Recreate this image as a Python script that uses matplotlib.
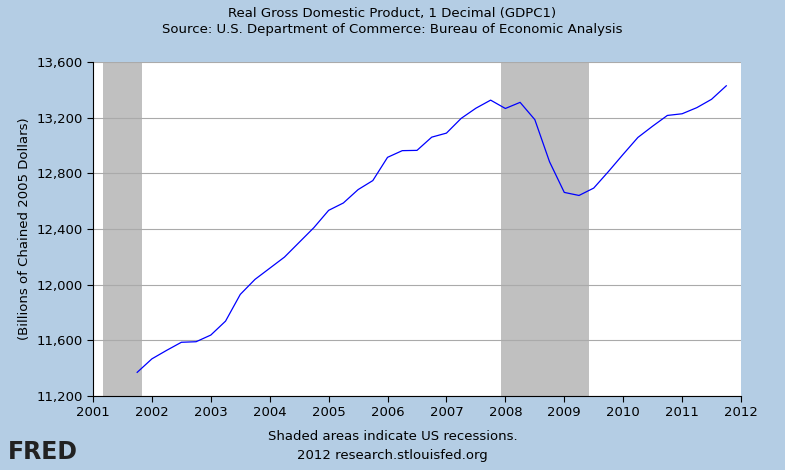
import numpy as np
import matplotlib.pyplot as plt

# quarterly GDPC1, first obs 2001Q4
start = 2001.75
gdp = [11370,
       11467, 11528, 11586, 11590,
       11638, 11738, 11930, 12038,
       12118, 12198, 12304, 12410,
       12534, 12587, 12683, 12748,
       12915, 12963, 12965, 13060,
       13089, 13195, 13268, 13326,
       13266, 13310, 13186, 12883,
       12663, 12641, 12694, 12813,
       12937, 13058, 13139, 13216,
       13228, 13272, 13332, 13429]
recessions = [(2001.17, 2001.83), (2007.92, 2009.42)]
yticks = [11200, 11600, 12000, 12400, 12800, 13200, 13600]
xticks = list(range(2001, 2013))

dates = start + np.arange(len(gdp)) / 4.0

bg = "#B4CDE4"
fig = plt.figure(figsize=(7.85, 4.70), dpi=100, facecolor=bg)
ax = fig.add_axes([93 / 785, 1 - 396 / 470, 648 / 785, 334 / 470])
ax.set_facecolor("white")

for a, b in recessions:
    ax.axvspan(a, b, color="#C0C0C0", zorder=1, lw=0)
ax.plot(dates, gdp, color="#0000FF", lw=0.9, zorder=3)

ax.set_xlim(2001, 2012)
ax.set_ylim(11200, 13600)
ax.set_xticks(xticks)
ax.set_yticks(yticks)
ax.set_yticklabels([f"{v:,}" for v in yticks])
ax.grid(axis="y", color="#AAAAAA", lw=0.8, zorder=2)
ax.tick_params(labelsize=9.5, length=4, color="black")
for s in ax.spines.values():
    s.set_visible(False)
ax.spines["left"].set_visible(True)
ax.spines["bottom"].set_visible(True)
ax.set_ylabel("(Billions of Chained 2005 Dollars)", fontsize=9.5)

fig.text(0.5, 1 - 13 / 470, "Real Gross Domestic Product, 1 Decimal (GDPC1)",
         ha="center", va="center", fontsize=9.5)
fig.text(0.5, 1 - 30 / 470, "Source: U.S. Department of Commerce: Bureau of Economic Analysis",
         ha="center", va="center", fontsize=9.5)
fig.text(0.5, 1 - 437 / 470, "Shaded areas indicate US recessions.",
         ha="center", va="center", fontsize=9.5)
fig.text(0.5, 1 - 455 / 470, "2012 research.stlouisfed.org",
         ha="center", va="center", fontsize=9.5)
fig.text(8 / 785, 1 - 452 / 470, "FRED", ha="left", va="center",
         fontsize=17, fontweight="bold", color="#222222")

fig.savefig("out.png", dpi=100, facecolor=bg)
